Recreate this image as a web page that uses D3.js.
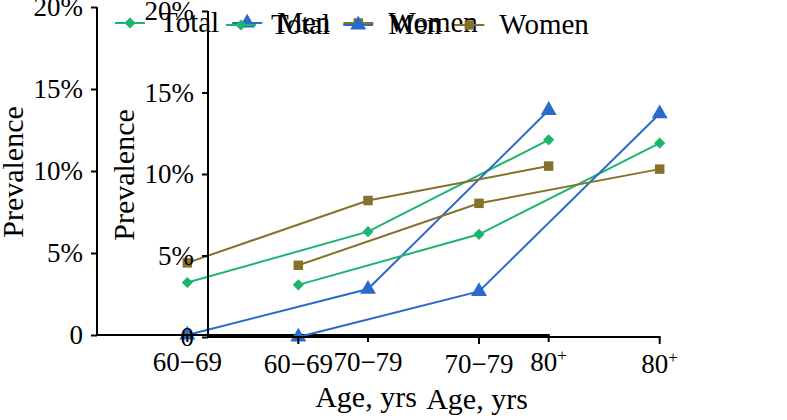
<!DOCTYPE html>
<html>
<head>
<meta charset="utf-8">
<script src="https://cdn.jsdelivr.net/npm/d3@7"></script>
<style>
  html, body { margin: 0; padding: 0; background: #fff; }
  svg { display: block; }
  text { font-family: "Liberation Serif", "Times New Roman", serif; fill: #000; }
</style>
</head>
<body>
<svg id="chart" width="787" height="420"></svg>
<script>
// ---- data ----
const categories = ["60\u221269", "70\u221279", "80+"];
const yTicks = [0, 5, 10, 15, 20];
const seriesNames = ["Total", "Men", "Women"];
const totalValues = [3.2, 6.3, 11.9];
const menValues = [0.0, 2.8, 13.7];
const womenValues = [4.4, 8.2, 10.3];
const seriesColors = ["#1db46e", "#2a6acb", "#85722a"];
const seriesSymbols = [d3.symbolDiamond2, d3.symbolTriangle, d3.symbolSquare];
const seriesSizes = [80, 110, 90];

const series = seriesNames.map((name, i) => ({
  name,
  values: [totalValues, menValues, womenValues][i],
  color: seriesColors[i],
  symbol: seriesSymbols[i],
  size: seriesSizes[i]
}));

const svg = d3.select("#chart");

function drawChart(offX, offY, yTop) {
  const g = svg.append("g").attr("transform", `translate(${offX},${offY})`);
  const left = 97, right = 639, bottom = 335;
  const x = d3.scalePoint().domain(categories).range([left, right]).padding(0.5);
  const y = d3.scaleLinear().domain([0, 20]).range([bottom, yTop]);

  // lines and markers
  const line = d3.line().x((d, i) => x(categories[i])).y(d => y(d));
  series.forEach(s => {
    g.append("path")
      .attr("d", line(s.values))
      .attr("fill", "none")
      .attr("stroke", s.color)
      .attr("stroke-width", 2);
    g.selectAll(null)
      .data(s.values)
      .enter()
      .append("path")
      .attr("d", d3.symbol().type(s.symbol).size(s.size))
      .attr("transform", (d, i) => `translate(${x(categories[i])},${y(d)})`)
      .attr("fill", s.color);
  });

  // y axis
  const yAxis = d3.axisLeft(y).tickValues(yTicks).tickSize(6).tickPadding(8)
    .tickFormat(d => d === 0 ? "0" : d + "%");
  const ya = g.append("g").attr("transform", `translate(${left},0)`).call(yAxis);
  ya.select(".domain").remove();
  ya.selectAll(".tick line").attr("stroke", "#000").attr("stroke-width", 2);
  ya.selectAll(".tick text").attr("font-size", 27)
    .attr("font-family", "Liberation Serif").attr("fill", "#000");
  g.append("line").attr("x1", left).attr("x2", left).attr("y1", bottom + 1).attr("y2", yTop)
    .attr("stroke", "#000").attr("stroke-width", 2);

  // x axis
  const lastX = x(categories[categories.length - 1]);
  g.append("line").attr("x1", left - 1).attr("x2", lastX + 1).attr("y1", bottom).attr("y2", bottom)
    .attr("stroke", "#000").attr("stroke-width", 2);
  const xt = g.selectAll(null).data(categories).enter().append("g")
    .attr("transform", d => `translate(${x(d)},${bottom})`);
  xt.append("line").attr("y1", 0).attr("y2", 7).attr("stroke", "#000").attr("stroke-width", 2);
  xt.each(function(d) {
    const t = d3.select(this).append("text")
      .attr("y", 36).attr("text-anchor", "middle").attr("font-size", 27);
    if (d.endsWith("+")) {
      t.append("tspan").text(d.slice(0, -1));
      t.append("tspan").text("+").attr("font-size", 17).attr("dy", -10);
    } else {
      t.text(d);
    }
  });

  // axis titles
  g.append("text").attr("x", (left + right) / 2 - 2).attr("y", 407)
    .attr("text-anchor", "middle").attr("font-size", 30).text("Age, yrs");
  g.append("text").attr("transform", `translate(23,${(bottom + yTop) / 2 + 1}) rotate(-90)`)
    .attr("text-anchor", "middle").attr("font-size", 30).text("Prevalence");

  // legend
  const lg = g.append("g").attr("transform", "translate(115,23)");
  let cx = 0;
  series.forEach(s => {
    const it = lg.append("g").attr("transform", `translate(${cx},0)`);
    it.append("line").attr("x1", 0).attr("x2", 30).attr("stroke", s.color).attr("stroke-width", 2);
    it.append("path").attr("d", d3.symbol().type(s.symbol).size(s.size))
      .attr("transform", "translate(15,0)").attr("fill", s.color);
    const t = it.append("text").attr("x", 45).attr("y", 9).attr("font-size", 29).text(s.name);
    cx += 45 + t.node().getComputedTextLength() + 13;
  });
}

drawChart(0, 0, 7);
drawChart(111, 2, 9);
</script>
</body>
</html>
